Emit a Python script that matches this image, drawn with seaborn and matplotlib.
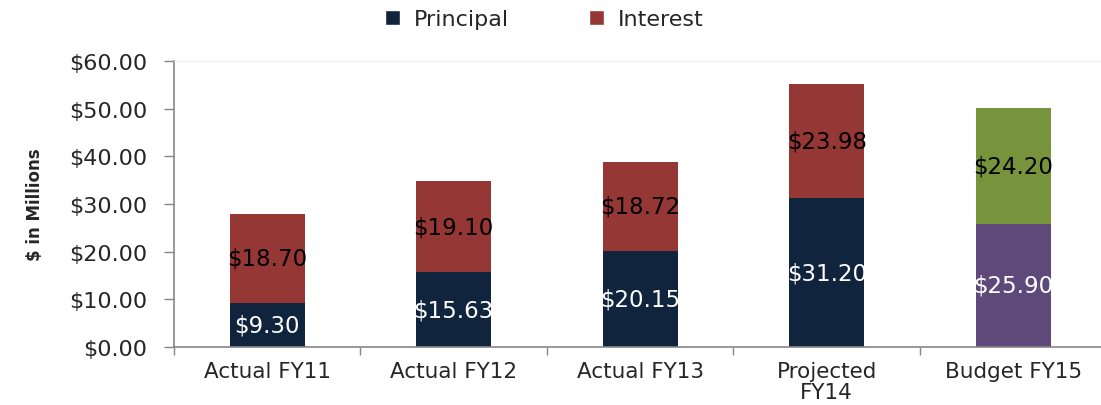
import matplotlib
matplotlib.use("Agg")
import matplotlib.pyplot as plt
from matplotlib.patches import Patch
from matplotlib.ticker import StrMethodFormatter, FixedLocator
import seaborn as sns
import pandas as pd

categories = ["Actual FY11", "Actual FY12", "Actual FY13", "Projected\nFY14", "Budget FY15"]
principal = [9.30, 15.63, 20.15, 31.20, 25.90]
interest = [18.70, 19.10, 18.72, 23.98, 24.20]

principal_colors = ["#11243E", "#11243E", "#11243E", "#11243E", "#5F497A"]
interest_colors = ["#953735", "#953735", "#953735", "#953735", "#77933C"]

df = pd.DataFrame({"category": categories, "principal": principal, "interest": interest})
df["total"] = df["principal"] + df["interest"]

sns.set_style("white")
plt.rcParams["font.family"] = ["DejaVu Sans"]

fig = plt.figure(figsize=(11.01, 4.06), dpi=100)
ax = fig.add_axes([0.158, 0.143, 0.847, 0.704])

# interest sits on top of principal: draw totals, then principal over them
sns.barplot(data=df, x="category", y="total", hue="category",
            palette=interest_colors, width=0.4, legend=False, ax=ax,
            saturation=1, linewidth=0)
sns.barplot(data=df, x="category", y="principal", hue="category",
            palette=principal_colors, width=0.4, legend=False, ax=ax,
            saturation=1, linewidth=0)

for i, (p, it) in enumerate(zip(principal, interest)):
    ax.text(i, p / 2, f"${p:.2f}", ha="center", va="center",
            color="white", fontsize=16.5, clip_on=True)
    ax.text(i, p + it / 2, f"${it:.2f}", ha="center", va="center",
            color="black", fontsize=16.5)

ax.set_ylim(0, 60)
ax.set_xlim(-0.5, len(categories) - 0.5)
ax.yaxis.set_major_formatter(StrMethodFormatter("${x:,.2f}"))
ax.set_yticks(range(0, 61, 10))
ax.tick_params(axis="y", labelsize=16, length=7, width=1, color="#868686",
               direction="out", left=True, labelcolor="#262626", pad=12)
ax.tick_params(axis="x", which="major", length=0, labelsize=15.5,
               labelcolor="#262626", pad=10)
for lbl in ax.get_xticklabels():
    lbl.set_linespacing(1.05)
ax.xaxis.set_minor_locator(FixedLocator([i - 0.5 for i in range(len(categories) + 1)]))
ax.tick_params(axis="x", which="minor", length=6, width=1, color="#868686",
               direction="out", bottom=True)

ax.set_xlabel("")
ax.set_ylabel("$ in Millions", fontsize=12, fontweight="bold",
              labelpad=18)

for side in ("left", "bottom"):
    ax.spines[side].set_color("#868686")
    ax.spines[side].set_linewidth(1.2)
ax.spines["top"].set_color("#eeeeee")
ax.spines["right"].set_visible(False)

handles = [Patch(facecolor=principal_colors[0], label="Principal"),
           Patch(facecolor=interest_colors[0], label="Interest")]
fig.legend(handles=handles, loc="center", bbox_to_anchor=(0.494, 0.95), ncol=2,
           frameon=False, fontsize=16, handlelength=0.7, handleheight=0.7,
           handletextpad=0.6, columnspacing=3.6, labelcolor="#262626")

fig.savefig("out.png", dpi=100)
